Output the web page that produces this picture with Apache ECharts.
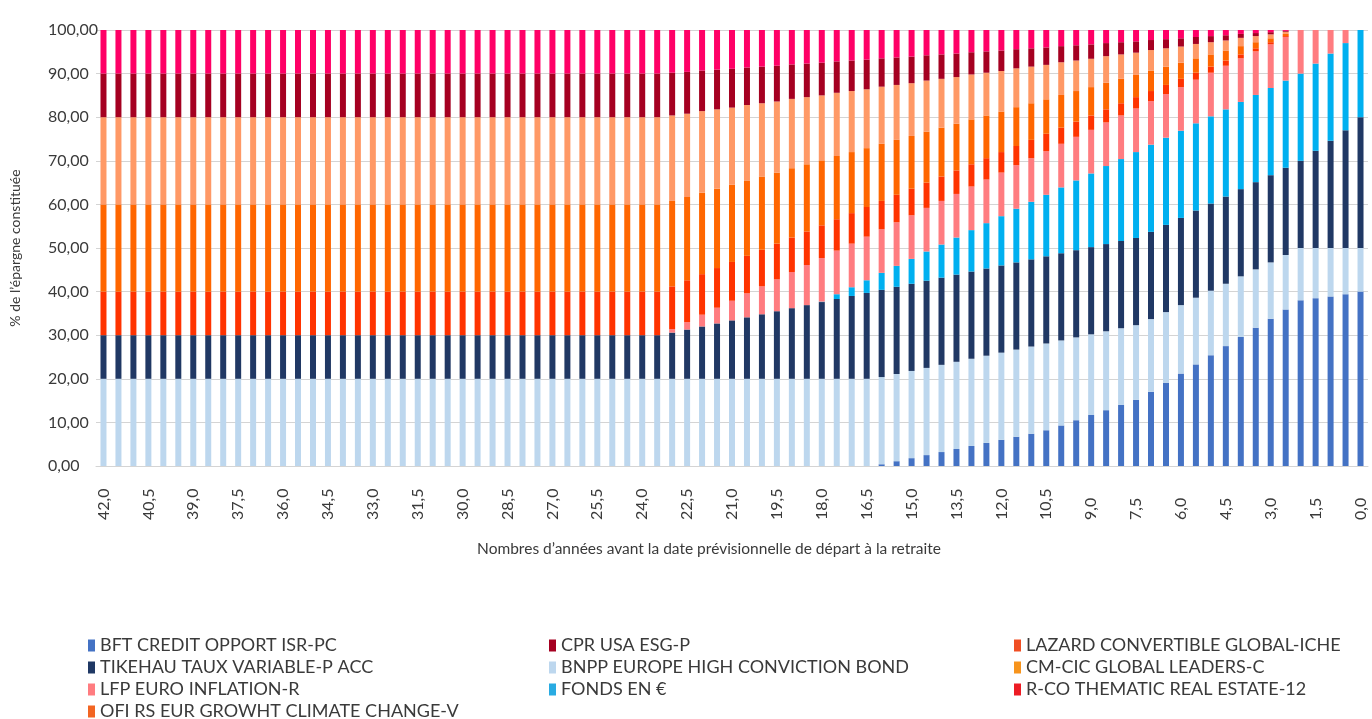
<!DOCTYPE html>
<html>
<head>
<meta charset="utf-8">
<title>Répartition de l'épargne</title>
<script src="https://cdn.jsdelivr.net/npm/echarts@6.0.0/dist/echarts.min.js"></script>
<style>
  html, body { margin: 0; padding: 0; background: #fff; }
  #chart { width: 1372px; height: 719px; }
</style>
</head>
<body>
<div id="chart"></div>
<script>
// années avant la retraite (axe des catégories)
const years = [
  '42,0', '41,5', '41,0', '40,5', '40,0', '39,5', '39,0', '38,5', '38,0', '37,5',
  '37,0', '36,5', '36,0', '35,5', '35,0', '34,5', '34,0', '33,5', '33,0', '32,5',
  '32,0', '31,5', '31,0', '30,5', '30,0', '29,5', '29,0', '28,5', '28,0', '27,5',
  '27,0', '26,5', '26,0', '25,5', '25,0', '24,5', '24,0', '23,5', '23,0', '22,5',
  '22,0', '21,5', '21,0', '20,5', '20,0', '19,5', '19,0', '18,5', '18,0', '17,5',
  '17,0', '16,5', '16,0', '15,5', '15,0', '14,5', '14,0', '13,5', '13,0', '12,5',
  '12,0', '11,5', '11,0', '10,5', '10,0', '9,5', '9,0', '8,5', '8,0', '7,5',
  '7,0', '6,5', '6,0', '5,5', '5,0', '4,5', '4,0', '3,5', '3,0', '2,5',
  '2,0', '1,5', '1,0', '0,5', '0,0'
];

// part de chaque support (%), du bas vers le haut de la pile
const bft = [
  0, 0, 0, 0, 0, 0, 0, 0, 0, 0,
  0, 0, 0, 0, 0, 0, 0, 0, 0, 0,
  0, 0, 0, 0, 0, 0, 0, 0, 0, 0,
  0, 0, 0, 0, 0, 0, 0, 0, 0, 0,
  0, 0, 0, 0, 0, 0, 0, 0, 0, 0,
  0, 0, 0.4, 1.1, 1.8, 2.5, 3.2, 3.9, 4.6, 5.3,
  6.0, 6.7, 7.4, 8.2, 9.3, 10.5, 11.7, 12.8, 14.0, 15.2,
  17.0, 19.1, 21.2, 23.3, 25.4, 27.5, 29.6, 31.7, 33.8, 35.9,
  38.0, 38.5, 38.9, 39.4, 40.0
];
const bnpp = [
  20, 20, 20, 20, 20, 20, 20, 20, 20, 20,
  20, 20, 20, 20, 20, 20, 20, 20, 20, 20,
  20, 20, 20, 20, 20, 20, 20, 20, 20, 20,
  20, 20, 20, 20, 20, 20, 20, 20, 20, 20,
  20, 20, 20, 20, 20, 20, 20, 20, 20, 20,
  20, 20, 20, 20, 20, 20, 20, 20, 20, 20,
  20, 20, 20, 19.9, 19.5, 19.0, 18.5, 18.1, 17.6, 17.1,
  16.7, 16.2, 15.7, 15.3, 14.8, 14.3, 13.9, 13.4, 12.9, 12.5,
  12.0, 11.5, 11.1, 10.6, 10.0
];
const tikehau = [
  10, 10, 10, 10, 10, 10, 10, 10, 10, 10,
  10, 10, 10, 10, 10, 10, 10, 10, 10, 10,
  10, 10, 10, 10, 10, 10, 10, 10, 10, 10,
  10, 10, 10, 10, 10, 10, 10, 10, 10.6, 11.3,
  12.0, 12.7, 13.4, 14.1, 14.8, 15.5, 16.2, 16.9, 17.6, 18.3,
  19.0, 19.7, 20, 20, 20, 20, 20, 20, 20, 20,
  20, 20, 20, 20, 20, 20, 20, 20, 20, 20,
  20, 20, 20, 20, 20, 20, 20, 20, 20, 20,
  20, 22.3, 24.6, 27.0, 30.0
];
const fondsEuro = [
  0, 0, 0, 0, 0, 0, 0, 0, 0, 0,
  0, 0, 0, 0, 0, 0, 0, 0, 0, 0,
  0, 0, 0, 0, 0, 0, 0, 0, 0, 0,
  0, 0, 0, 0, 0, 0, 0, 0, 0, 0,
  0, 0, 0, 0, 0, 0, 0, 0, 0.1, 1.1,
  2.0, 2.9, 3.9, 4.8, 5.7, 6.7, 7.6, 8.5, 9.5, 10.4,
  11.3, 12.3, 13.2, 14.1, 15.1, 16.0, 16.9, 17.9, 18.8, 19.7,
  20, 20, 20, 20, 20, 20, 20, 20, 20, 20,
  20, 20, 20, 20, 20
];
const lfp = [
  0, 0, 0, 0, 0, 0, 0, 0, 0, 0,
  0, 0, 0, 0, 0, 0, 0, 0, 0, 0,
  0, 0, 0, 0, 0, 0, 0, 0, 0, 0,
  0, 0, 0, 0, 0, 0, 0, 0, 0.8, 1.7,
  2.7, 3.6, 4.5, 5.5, 6.4, 7.3, 8.3, 9.2, 10, 10,
  10, 10, 10, 10, 10, 10, 10, 10, 10, 10,
  10, 10, 10, 10, 10, 10, 10, 10, 10, 10,
  10, 10, 10, 10, 10, 10, 10, 10, 10, 10,
  10, 7.7, 5.4, 3.0, 0
];
const lazard = [
  10, 10, 10, 10, 10, 10, 10, 10, 10, 10,
  10, 10, 10, 10, 10, 10, 10, 10, 10, 10,
  10, 10, 10, 10, 10, 10, 10, 10, 10, 10,
  10, 10, 10, 10, 10, 10, 10, 10, 9.8, 9.6,
  9.3, 9.1, 8.9, 8.6, 8.4, 8.2, 7.9, 7.7, 7.5, 7.2,
  7.0, 6.8, 6.5, 6.3, 6.1, 5.8, 5.6, 5.4, 5.1, 4.9,
  4.7, 4.4, 4.2, 4.0, 3.7, 3.5, 3.3, 3.0, 2.8, 2.6,
  2.3, 2.1, 1.9, 1.6, 1.4, 1.2, 0.9, 0.7, 0.5, 0.2,
  0, 0, 0, 0, 0
];
const ofi = [
  20, 20, 20, 20, 20, 20, 20, 20, 20, 20,
  20, 20, 20, 20, 20, 20, 20, 20, 20, 20,
  20, 20, 20, 20, 20, 20, 20, 20, 20, 20,
  20, 20, 20, 20, 20, 20, 20, 20, 19.6, 19.1,
  18.7, 18.2, 17.7, 17.3, 16.8, 16.3, 15.9, 15.4, 14.9, 14.5,
  14.0, 13.5, 13.1, 12.6, 12.1, 11.7, 11.2, 10.7, 10.3, 9.8,
  9.3, 8.9, 8.4, 7.9, 7.5, 7.0, 6.5, 6.1, 5.6, 5.1,
  4.7, 4.2, 3.7, 3.3, 2.8, 2.3, 1.9, 1.4, 0.9, 0.5,
  0, 0, 0, 0, 0
];
const cmcic = [
  20, 20, 20, 20, 20, 20, 20, 20, 20, 20,
  20, 20, 20, 20, 20, 20, 20, 20, 20, 20,
  20, 20, 20, 20, 20, 20, 20, 20, 20, 20,
  20, 20, 20, 20, 20, 20, 20, 20, 19.6, 19.1,
  18.7, 18.2, 17.7, 17.3, 16.8, 16.3, 15.9, 15.4, 14.9, 14.5,
  14.0, 13.5, 13.1, 12.6, 12.1, 11.7, 11.2, 10.7, 10.3, 9.8,
  9.3, 8.9, 8.4, 7.9, 7.5, 7.0, 6.5, 6.1, 5.6, 5.1,
  4.7, 4.2, 3.7, 3.3, 2.8, 2.3, 1.9, 1.4, 0.9, 0.5,
  0, 0, 0, 0, 0
];
const cpr = [
  10, 10, 10, 10, 10, 10, 10, 10, 10, 10,
  10, 10, 10, 10, 10, 10, 10, 10, 10, 10,
  10, 10, 10, 10, 10, 10, 10, 10, 10, 10,
  10, 10, 10, 10, 10, 10, 10, 10, 9.8, 9.6,
  9.3, 9.1, 8.9, 8.6, 8.4, 8.2, 7.9, 7.7, 7.5, 7.2,
  7.0, 6.8, 6.5, 6.3, 6.1, 5.8, 5.6, 5.4, 5.1, 4.9,
  4.7, 4.4, 4.2, 4.0, 3.7, 3.5, 3.3, 3.0, 2.8, 2.6,
  2.3, 2.1, 1.9, 1.6, 1.4, 1.2, 0.9, 0.7, 0.5, 0.2,
  0, 0, 0, 0, 0
];
const rco = [
  10, 10, 10, 10, 10, 10, 10, 10, 10, 10,
  10, 10, 10, 10, 10, 10, 10, 10, 10, 10,
  10, 10, 10, 10, 10, 10, 10, 10, 10, 10,
  10, 10, 10, 10, 10, 10, 10, 10, 9.8, 9.6,
  9.3, 9.1, 8.9, 8.6, 8.4, 8.2, 7.9, 7.7, 7.5, 7.2,
  7.0, 6.8, 6.5, 6.3, 6.1, 5.8, 5.6, 5.4, 5.1, 4.9,
  4.7, 4.4, 4.2, 4.0, 3.7, 3.5, 3.3, 3.0, 2.8, 2.6,
  2.3, 2.1, 1.9, 1.6, 1.4, 1.2, 0.9, 0.7, 0.5, 0.2,
  0, 0, 0, 0, 0
];

const font = 'Lato';
const textColor = '#3a3a3a';

// nom, données, couleur des barres, couleur de la pastille de légende
const funds = [
  ['BFT CREDIT OPPORT ISR-PC', bft, '#4472c4', '#4472c4'],
  ['BNPP EUROPE HIGH CONVICTION BOND', bnpp, '#bdd7ee', '#bdd7ee'],
  ['TIKEHAU TAUX VARIABLE-P ACC', tikehau, '#203864', '#1f3864'],
  ['FONDS EN €', fondsEuro, '#00b0f0', '#29abe2'],
  ['LFP EURO INFLATION-R', lfp, '#ff7c80', '#ff7c80'],
  ['LAZARD CONVERTIBLE GLOBAL-ICHE', lazard, '#ff3300', '#f04e23'],
  ['OFI RS EUR GROWHT CLIMATE CHANGE-V', ofi, '#ff6600', '#f26522'],
  ['CM-CIC GLOBAL LEADERS-C', cmcic, '#ff9966', '#f7941d'],
  ['CPR USA ESG-P', cpr, '#a50021', '#a50021'],
  ['R-CO THEMATIC REAL ESTATE-12', rco, '#ff0066', '#ed1c24']
];

const legendIcon = {};
funds.forEach(f => { legendIcon[f[0]] = f[3]; });

// une légende verticale par colonne
const legendCol = (left, names) => ({
  orient: 'vertical',
  left: left,
  top: 636,
  height: 100,
  padding: 0,
  icon: 'rect',
  itemWidth: 7,
  itemHeight: 12,
  itemGap: 3,
  selectedMode: false,
  textStyle: { fontFamily: font, fontSize: 18, color: textColor, lineHeight: 19 },
  data: names.map(n => ({ name: n, itemStyle: { color: legendIcon[n] } }))
});

const chart = echarts.init(document.getElementById('chart'));

const option = {
  backgroundColor: '#fff',
  animation: false,
  legend: [
    legendCol(88, ['BFT CREDIT OPPORT ISR-PC', 'TIKEHAU TAUX VARIABLE-P ACC', 'LFP EURO INFLATION-R', 'OFI RS EUR GROWHT CLIMATE CHANGE-V']),
    legendCol(549, ['CPR USA ESG-P', 'BNPP EUROPE HIGH CONVICTION BOND', 'FONDS EN €']),
    legendCol(1014, ['LAZARD CONVERTIBLE GLOBAL-ICHE', 'CM-CIC GLOBAL LEADERS-C', 'R-CO THEMATIC REAL ESTATE-12'])
  ],
  grid: {
    left: 90,
    right: 4,
    top: 30,
    bottom: 253
  },
  xAxis: {
    type: 'category',
    data: years,
    boundaryGap: true,
    name: 'Nombres d’années avant la date prévisionnelle de départ à la retraite',
    nameLocation: 'middle',
    nameGap: 75,
    nameTextStyle: { fontFamily: font, fontSize: 15.5, color: textColor, padding: [0, 46, 0, 0] },
    axisLine: { lineStyle: { color: '#d4d4d4', width: 1 } },
    axisTick: { show: false },
    axisLabel: {
      interval: 2,
      rotate: 90,
      align: 'left',
      verticalAlign: 'middle',
      margin: 54,
      fontFamily: font,
      fontSize: 16,
      color: textColor
    }
  },
  yAxis: {
    type: 'value',
    min: 0,
    max: 100,
    interval: 10,
    name: '% de l’épargne constituée',
    nameLocation: 'middle',
    nameGap: 74,
    nameTextStyle: { fontFamily: font, fontSize: 14, color: textColor },
    axisLine: { show: false },
    axisTick: { show: false },
    splitLine: { lineStyle: { color: '#d4d4d4', width: 1 } },
    axisLabel: {
      align: 'left',
      margin: 48,
      fontFamily: font,
      fontSize: 16,
      color: textColor,
      formatter: v => v.toFixed(2).replace('.', ',')
    }
  },
  series: funds.map(f => ({
    name: f[0],
    type: 'bar',
    stack: 'total',
    data: f[1],
    barWidth: 6,
    itemStyle: { color: f[2] },
    emphasis: { disabled: true }
  }))
};

chart.setOption(option);
</script>
</body>
</html>
